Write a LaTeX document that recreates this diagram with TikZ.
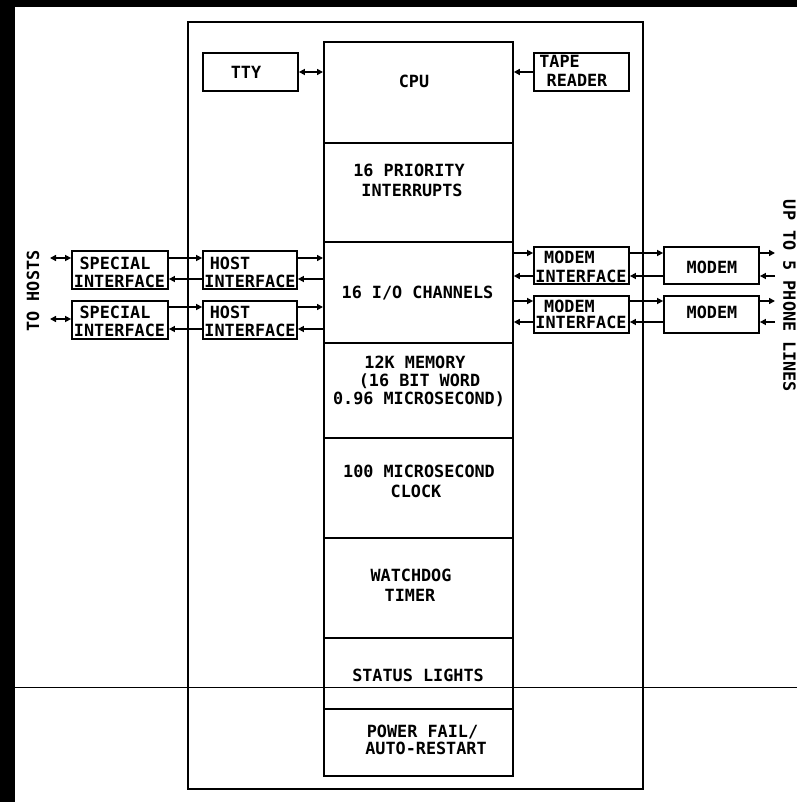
\documentclass[tikz,border=0pt]{standalone}
\usepackage{fontspec}
\newfontfamily\lbfont{DejaVu Sans Mono}
\usetikzlibrary{arrows.meta}
\begin{document}
\begin{tikzpicture}[x=1pt,y=-1pt,
  boxst/.style={draw, line width=1.8pt, inner sep=0pt},
  sect/.style={draw, line width=1.8pt, minimum width=189pt, inner sep=0pt, anchor=north west},
  lbl/.style={font=\lbfont\bfseries\fontsize{16.8}{20}\selectfont, inner sep=0pt, anchor=base},
  conn/.style={line width=1.5pt},
  tipend/.style={conn, -{Triangle[length=6pt,width=6pt]}},
  tipboth/.style={conn, {Triangle[length=6pt,width=6pt]}-{Triangle[length=6pt,width=6pt]}}
]
\useasboundingbox (0,0) rectangle (797,802);
% black bands
\fill[black] (0,0) rectangle (797,7);
\fill[black] (0,0) rectangle (15,802);

% outer frame
\node[boxst, anchor=north west, minimum width=455pt, minimum height=767pt] (outer) at (187,21) {};

% central column sections
\node[sect, minimum height=101pt] (cpu) at (323,41) {};
\node[sect, minimum height=99pt]  (prio) at (323,142) {};
\node[sect, minimum height=101pt] (io) at (323,241) {};
\node[sect, minimum height=95pt]  (mem) at (323,342) {};
\node[sect, minimum height=100pt] (clk) at (323,437) {};
\node[sect, minimum height=100pt] (wd) at (323,537) {};
\node[sect, minimum height=71pt]  (stat) at (323,637) {};
\node[sect, minimum height=67pt]  (pwr) at (323,708) {};

% side boxes
\node[boxst, minimum width=95pt, minimum height=38pt] (tty) at (250.5,72) {};
\node[boxst, minimum width=95pt, minimum height=38pt] (tape) at (581.5,72) {};
\node[boxst, minimum width=96pt, minimum height=38pt] (sp1) at (120,270) {};
\node[boxst, minimum width=96pt, minimum height=38pt] (sp2) at (120,320) {};
\node[boxst, minimum width=94pt, minimum height=38pt] (ho1) at (250,270) {};
\node[boxst, minimum width=94pt, minimum height=38pt] (ho2) at (250,320) {};
\node[boxst, minimum width=95pt, minimum height=37pt] (mi1) at (581.5,265.5) {};
\node[boxst, minimum width=95pt, minimum height=37pt] (mi2) at (581.5,314.5) {};
\node[boxst, minimum width=95pt, minimum height=37pt] (mo1) at (711.5,265.5) {};
\node[boxst, minimum width=95pt, minimum height=37pt] (mo2) at (711.5,314.5) {};

% texts
\node[lbl] (t-tty) at (246,79) {TTY};
\node[lbl] (t-cpu) at (414,88) {CPU};
\node[lbl] (t-tape1) at (559.5,68) {TAPE};
\node[lbl] (t-tape2) at (577,87) {READER};
\node[lbl] (t-pri1) at (409,177) {16 PRIORITY};
\node[lbl] (t-pri2) at (412,197) {INTERRUPTS};
\node[lbl] (t-io) at (417.5,298) {16 I/O CHANNELS};
\node[lbl] (t-mem1) at (415,368) {12K MEMORY};
\node[lbl] (t-mem2) at (419.5,386) {(16 BIT WORD};
\node[lbl] (t-mem3) at (419,404) {0.96 MICROSECOND)};
\node[lbl] (t-clk1) at (419,477) {100 MICROSECOND};
\node[lbl] (t-clk2) at (416,497) {CLOCK};
\node[lbl] (t-wd1) at (411,581) {WATCHDOG};
\node[lbl] (t-wd2) at (410,601) {TIMER};
\node[lbl] (t-st) at (418,681) {STATUS LIGHTS};
\node[lbl] (t-pw1) at (422.5,737) {POWER FAIL/};
\node[lbl] (t-pw2) at (426,754) {AUTO-RESTART};
\node[lbl] (t-sp1a) at (115,269) {SPECIAL};
\node[lbl] (t-sp1b) at (119.5,287) {INTERFACE};
\node[lbl] (t-sp2a) at (115,318) {SPECIAL};
\node[lbl] (t-sp2b) at (119.5,336) {INTERFACE};
\node[lbl] (t-ho1a) at (230,269) {HOST};
\node[lbl] (t-ho1b) at (250,287) {INTERFACE};
\node[lbl] (t-ho2a) at (230,318) {HOST};
\node[lbl] (t-ho2b) at (250,336) {INTERFACE};
\node[lbl] (t-mi1a) at (569.5,263) {MODEM};
\node[lbl] (t-mi1b) at (581,282) {INTERFACE};
\node[lbl] (t-mi2a) at (569.5,312) {MODEM};
\node[lbl] (t-mi2b) at (581,328) {INTERFACE};
\node[lbl] (t-mo1) at (712,273) {MODEM};
\node[lbl] (t-mo2) at (712,318) {MODEM};
\node[lbl, anchor=center, rotate=90] (t-hosts) at (33,291) {TO HOSTS};
\node[lbl, anchor=center, rotate=-90] (t-lines) at (789.5,296) {UP TO 5 PHONE LINES};

% row coordinates
\coordinate (hA1) at (0,258);
\coordinate (hB1) at (0,279);
\coordinate (hA2) at (0,307);
\coordinate (hB2) at (0,329);
\coordinate (mA1) at (0,253);
\coordinate (mB1) at (0,276);
\coordinate (mA2) at (0,301);
\coordinate (mB2) at (0,322);
\coordinate (th1) at (50,258);
\coordinate (th2) at (50,319);
\coordinate (pl1a) at (775,253);
\coordinate (pl1b) at (775,276);
\coordinate (pl2a) at (775,301);
\coordinate (pl2b) at (775,322);

% top connectors
\draw[tipboth] (tty.east) -- (tty.east -| cpu.west);
\draw[tipend] (tape.west) -- (tape.west -| cpu.east);

% host side
\draw[tipboth] (th1) -- (sp1.west |- th1);
\draw[tipboth] (th2) -- (sp2.west |- th2);
\draw[tipend] (sp1.east |- hA1) -- (ho1.west |- hA1);
\draw[tipend] (ho1.west |- hB1) -- (sp1.east |- hB1);
\draw[tipend] (ho1.east |- hA1) -- (io.west |- hA1);
\draw[tipend] (io.west |- hB1) -- (ho1.east |- hB1);
\draw[tipend] (sp2.east |- hA2) -- (ho2.west |- hA2);
\draw[tipend] (ho2.west |- hB2) -- (sp2.east |- hB2);
\draw[tipend] (ho2.east |- hA2) -- (io.west |- hA2);
\draw[tipend] (io.west |- hB2) -- (ho2.east |- hB2);

% modem side
\draw[tipend] (io.east |- mA1) -- (mi1.west |- mA1);
\draw[tipend] (mi1.west |- mB1) -- (io.east |- mB1);
\draw[tipend] (mi1.east |- mA1) -- (mo1.west |- mA1);
\draw[tipend] (mo1.west |- mB1) -- (mi1.east |- mB1);
\draw[tipend] (mo1.east |- mA1) -- (pl1a);
\draw[tipend] (pl1b) -- (mo1.east |- mB1);
\draw[tipend] (io.east |- mA2) -- (mi2.west |- mA2);
\draw[tipend] (mi2.west |- mB2) -- (io.east |- mB2);
\draw[tipend] (mi2.east |- mA2) -- (mo2.west |- mA2);
\draw[tipend] (mo2.west |- mB2) -- (mi2.east |- mB2);
\draw[tipend] (mo2.east |- mA2) -- (pl2a);
\draw[tipend] (pl2b) -- (mo2.east |- mB2);

% stray horizontal rule
\coordinate (hl1) at (15,687);
\coordinate (hl2) at (797,687);
\draw[line width=0.9pt] (hl1) -- (hl2);
\end{tikzpicture}
\end{document}
